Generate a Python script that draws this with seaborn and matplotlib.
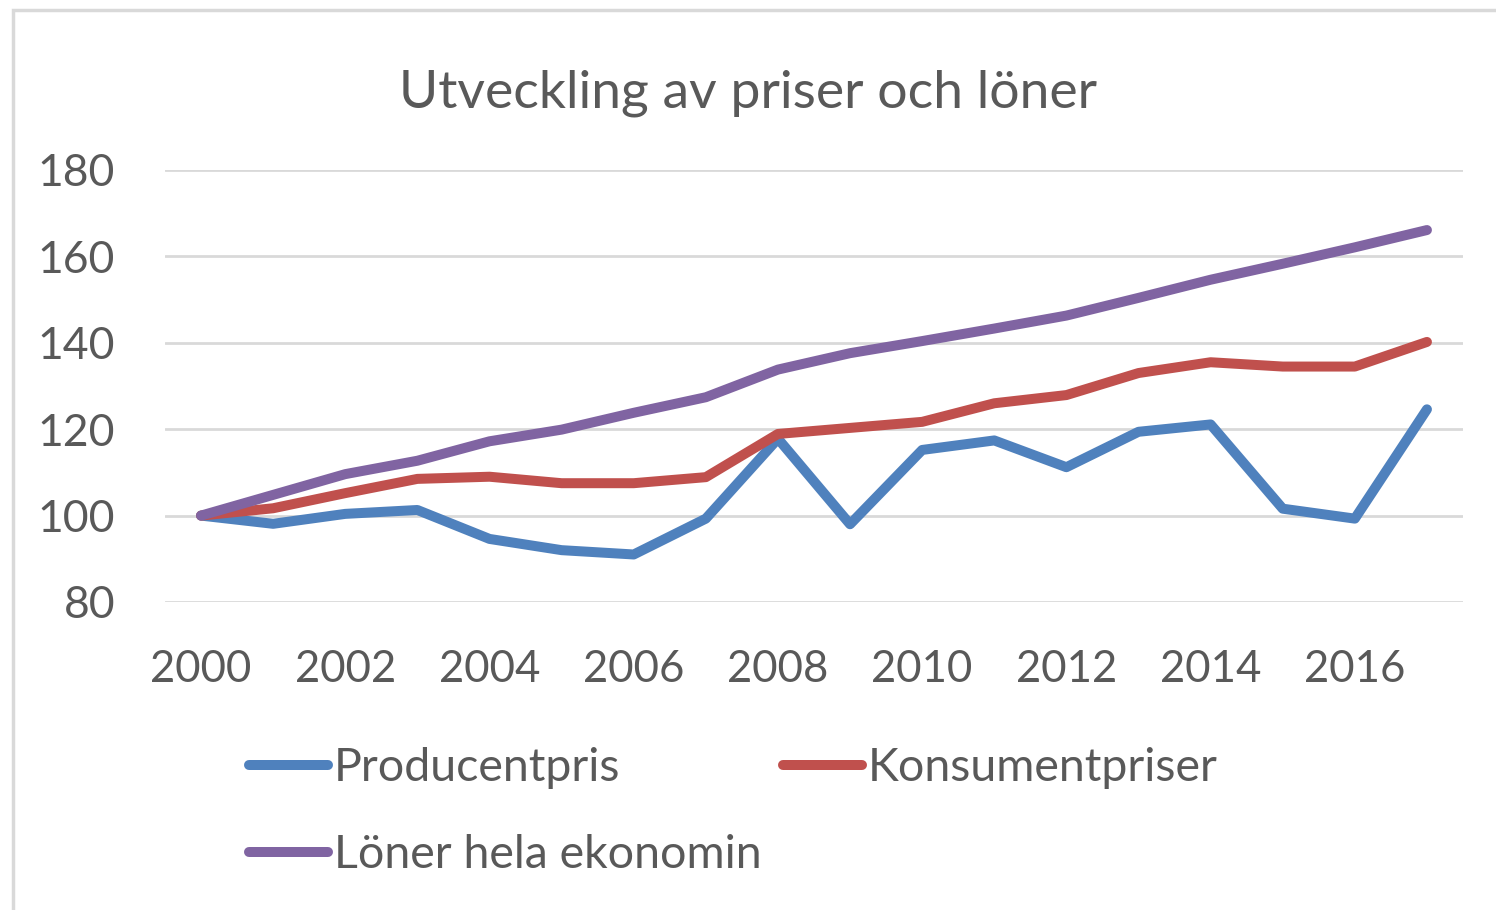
import numpy as np
import pandas as pd
import matplotlib
matplotlib.use("Agg")
import matplotlib.pyplot as plt
from matplotlib.patches import Rectangle
import seaborn as sns

years = list(range(2000, 2018))
producentpris = [100, 98.1, 100.4, 101.3, 94.6, 92.0, 91.0, 99.3, 117.8, 98.0,
                 115.2, 117.4, 111.2, 119.4, 121.1, 101.6, 99.3, 124.6]
konsumentpriser = [100, 101.7, 105.2, 108.5, 109.0, 107.5, 107.5, 108.9, 118.9, 120.3,
                   121.7, 126.0, 127.9, 133.0, 135.5, 134.5, 134.5, 140.2]
loner = [100, 104.8, 109.6, 112.7, 117.2, 119.9, 123.8, 127.4, 133.8, 137.6,
         140.4, 143.3, 146.3, 150.4, 154.6, 158.3, 162.1, 166.1]
series_names = ["Producentpris", "Konsumentpriser", "Löner hela ekonomin"]
title = "Utveckling av priser och löner"
yticks = [80, 100, 120, 140, 160, 180]
xticks = list(range(2000, 2017, 2))

df = pd.DataFrame({
    "year": years * 3,
    "value": producentpris + konsumentpriser + loner,
    "series": [series_names[0]] * 18 + [series_names[1]] * 18 + [series_names[2]] * 18,
})

sns.set_theme(style="white")
plt.rcParams["font.family"] = ["Lato", "DejaVu Sans"]
text_color = "#595959"
palette = {series_names[0]: "#4F81BD", series_names[1]: "#C0504D", series_names[2]: "#8064A2"}

fig = plt.figure(figsize=(14.96, 9.10), dpi=100)
ax = fig.add_axes([165 / 1496, 1 - 602 / 910, (1463 - 165) / 1496, (602 - 170) / 910])

sns.lineplot(data=df, x="year", y="value", hue="series", palette=palette,
             linewidth=7.2, ax=ax, legend=False, solid_capstyle="round",
             solid_joinstyle="round", hue_order=series_names)

ax.set_xlim(1999.5, 2017.5)
ax.set_ylim(80, 180)
ax.set_yticks(yticks)
ax.set_xticks(xticks)
ax.set_xticklabels([str(x) for x in xticks])
ax.set_xlabel("")
ax.set_ylabel("")
ax.grid(axis="y", color="#D9D9D9", linewidth=2)
ax.grid(axis="x", visible=False)
for s in ax.spines.values():
    s.set_visible(False)
ax.tick_params(axis="y", length=0, pad=36, labelsize=32, labelcolor=text_color)
ax.tick_params(axis="x", length=0, pad=34, labelsize=31.5, labelcolor=text_color)
for line in ax.get_lines():
    line.set_zorder(3)

fig.text(748 / 1496, 1 - 93 / 910, title, ha="center", va="center",
         fontsize=38.5, color=text_color)

handles = {name: plt.Line2D([], [], color=palette[name], linewidth=7.2, solid_capstyle="round")
           for name in series_names}
order = [series_names[0], series_names[2], series_names[1]]
leg = fig.legend([handles[n] for n in order], order, ncol=2, loc="upper left",
                 bbox_to_anchor=(249 / 1496, 1 - 747 / 910), frameon=False,
                 fontsize=33.5, handlelength=1.7, handletextpad=0.12,
                 columnspacing=0.47, labelspacing=0.97, borderpad=0, borderaxespad=0)
for t in leg.get_texts():
    t.set_color(text_color)

fig.patches.append(Rectangle((13 / 1496, -0.1), 1.2, 1.1 - 10 / 910,
                             transform=fig.transFigure, fill=False,
                             edgecolor="#D9D9D9", linewidth=2.5))

fig.savefig("out.png", dpi=100, facecolor="white")
